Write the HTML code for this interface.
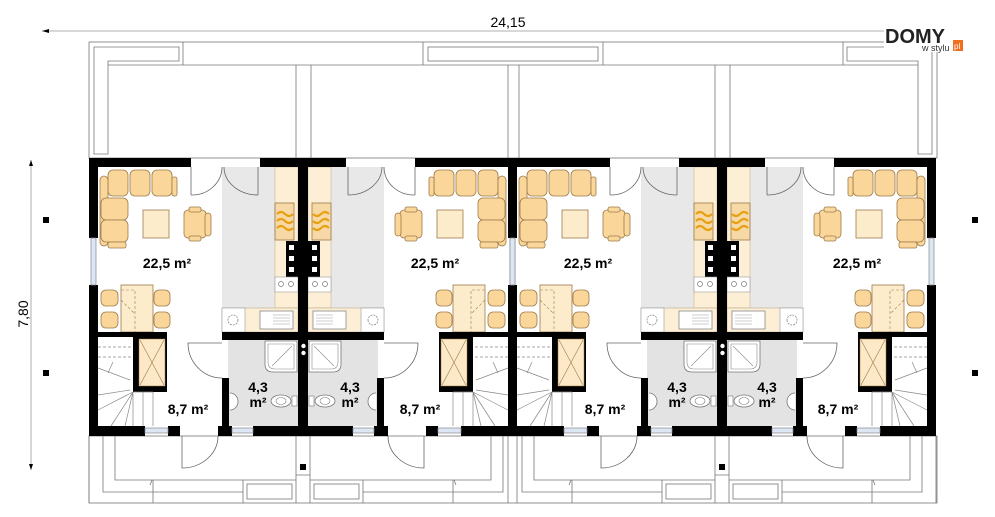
<!DOCTYPE html>
<html><head><meta charset="utf-8"><style>
html,body{margin:0;padding:0;background:#fff}
svg{display:block}
text{font-family:"Liberation Sans",sans-serif}
</style></head><body>
<svg width="995" height="517" viewBox="0 0 995 517" xmlns="http://www.w3.org/2000/svg">
<defs>
<g id="u">
  <!-- floors -->
  <rect x="222" y="167" width="76" height="165" fill="#e8e8e8"/>
  <rect x="228" y="340" width="70" height="86" fill="#e3e3e3"/>
  <!-- counter column along party wall -->
  <rect x="275" y="167" width="23" height="141" fill="#fdefd6" stroke="#c9b48f" stroke-width="0.6"/>
  <rect x="275" y="203" width="19" height="37" fill="#f6d9a6" stroke="#9a7a4a" stroke-width="0.8"/>
  <path d="M277 214 q4 -4 8 0 t8 0 M277 221 q4 -4 8 0 t8 0 M277 228 q4 -4 8 0 t8 0" fill="none" stroke="#e8a010" stroke-width="2.2"/>
  <rect x="286" y="241" width="12" height="36" fill="#000"/>
  <rect x="289" y="245" width="5" height="5" fill="#fff"/><rect x="289" y="256" width="5" height="5" fill="#fff"/><rect x="289" y="267" width="5" height="5" fill="#fff"/>
  <rect x="275" y="277" width="23" height="15" fill="#fff" stroke="#999" stroke-width="0.6"/>
  <circle cx="281" cy="284" r="2.5" fill="none" stroke="#777" stroke-width="0.7"/><circle cx="291" cy="284" r="2.5" fill="none" stroke="#777" stroke-width="0.7"/>
  <!-- bottom counter -->
  <rect x="222" y="308" width="76" height="24" fill="#fdefd6" stroke="#b9a98a" stroke-width="0.6"/>
  <rect x="222" y="308" width="23" height="24" fill="#fff" stroke="#999" stroke-width="0.6"/>
  <circle cx="233" cy="320" r="5" fill="none" stroke="#888" stroke-width="0.8" stroke-dasharray="2 1"/>
  <rect x="260" y="311" width="33" height="18" fill="#fff" stroke="#888" stroke-width="0.8"/>
  <path d="M273 315h17M273 318h17M273 321h17M273 324h17" stroke="#999" stroke-width="0.6"/>
  <!-- shower -->
  <path d="M265 341 h32 v31 h-24 q-8 0 -8 -8 z" fill="#fff" stroke="#777" stroke-width="0.8"/>
  <path d="M268 344 h26 v25 h-19 q-7 0 -7 -7 z M272 366 l20 -20" fill="none" stroke="#888" stroke-width="0.6"/>
  <!-- toilet & sink -->
  <ellipse cx="281" cy="401" rx="10" ry="6" fill="#fff" stroke="#777" stroke-width="0.8"/>
  <ellipse cx="281" cy="401" rx="5" ry="3.5" fill="none" stroke="#777" stroke-width="0.6"/>
  <rect x="292" y="396" width="5" height="10" fill="#fff" stroke="#777" stroke-width="0.6"/>
  <path d="M230 393 a8 8.5 0 0 1 0 17" fill="#fff" stroke="#777" stroke-width="0.8"/>
  <!-- sofa -->
  <g fill="#fbd69b" stroke="#9b7b4a" stroke-width="0.8">
    <rect x="108" y="170" width="20" height="26" rx="5"/><rect x="130" y="170" width="20" height="26" rx="5"/><rect x="152" y="170" width="20" height="26" rx="5"/>
    <rect x="172" y="177" width="5" height="19" rx="2"/>
    <rect x="100" y="176" width="8" height="70" rx="4"/>
    <rect x="101" y="198" width="27" height="22" rx="5"/><rect x="101" y="220" width="27" height="22" rx="5"/>
    <rect x="108" y="242" width="18" height="6" rx="2"/>
    <rect x="184" y="210" width="22" height="28" rx="4"/><rect x="205" y="213" width="6" height="23" rx="3"/>
    <rect x="189" y="207" width="12" height="5" rx="2"/><rect x="189" y="236" width="12" height="5" rx="2"/>
    <rect x="101" y="290" width="17" height="16" rx="5"/><rect x="101" y="312" width="17" height="16" rx="5"/>
    <rect x="154" y="290" width="16" height="16" rx="5"/><rect x="154" y="312" width="16" height="16" rx="5"/>
  </g>
  <rect x="143" y="210" width="26" height="28" fill="#fdeccb" stroke="#9b7b4a" stroke-width="0.8"/>
  <rect x="121" y="285" width="32" height="47" fill="#fdeccb" stroke="#9b7b4a" stroke-width="0.8"/>
  <path d="M121 290 h14 v42 M121 300 l14 14" fill="none" stroke="#9b7b4a" stroke-width="0.6" stroke-dasharray="3 2"/>
  <!-- closet -->
  <rect x="133" y="337" width="34" height="55" fill="#000"/>
  <rect x="139" y="339" width="26" height="47" fill="#fde9c8" stroke="#9b7b4a" stroke-width="0.5"/>
  <path d="M140 340 L164 385 M164 340 L140 385" stroke="#9b7b4a" stroke-width="0.6"/>
  <!-- stairs -->
  <g stroke="#888" stroke-width="0.7" fill="none">
    <path d="M98 347h35M98 357h35" stroke-dasharray="3 2"/>
    <path d="M98 368 L130 380 M113 362 L108 373 M98 395 L130 390 M98 410 L133 392 M111 426 L133 392 M125 426 L133 392 M133 392 V426 M143 392 V426 M153 392 V426 M133 392 h20"/>
  </g>
  <!-- walls -->
  <g fill="#000">
    <rect x="89" y="158" width="102" height="9"/>
    <rect x="260" y="158" width="47" height="9"/>
    <rect x="89" y="158" width="9" height="80"/>
    <rect x="89" y="285" width="9" height="151"/>
    <rect x="298" y="158" width="9" height="278"/>
    <rect x="98" y="332" width="69" height="5"/>
    <rect x="222" y="332" width="76" height="8"/>
    <rect x="222" y="378" width="7" height="48"/>
    <rect x="89" y="426" width="56" height="10"/>
    <rect x="168" y="426" width="12" height="10"/>
    <rect x="218" y="426" width="14" height="10"/>
    <rect x="253" y="426" width="54" height="10"/>
  </g>
  <circle cx="302.5" cy="346" r="2.2" fill="#fff"/><circle cx="302.5" cy="353" r="2.2" fill="#fff"/>
  <!-- windows -->
  <g fill="#dce6f4" stroke="#888" stroke-width="0.7">
    <rect x="91" y="238" width="5" height="47"/>
    <rect x="145" y="428" width="23" height="5"/>
    <rect x="232" y="428" width="21" height="5"/>
  </g>
  <!-- doors -->
  <g fill="none" stroke="#666" stroke-width="0.8">
    <path d="M191 167 V195 M191 195 A30 28 0 0 0 222 167"/>
    <path d="M258 167 V195 M258 195 A34 28 0 0 1 224 167"/>
    <path d="M222 343 H188 A34 35 0 0 0 222 378"/>
    <path d="M218 436 A36 32 0 0 1 182 468 V436"/>
  </g>
  <!-- outside bottom -->
  <g fill="none" stroke="#777" stroke-width="0.8">
    <path d="M103 436 V492 H243 M115 436 V480 H296 M153 480 V503 M243 480 V503 M152 480 l-2 5"/>
    <rect x="247" y="484" width="45" height="15"/>
    <path d="M296 436 V503 M89 436 V503 M296 475 H303"/>
  </g>
  <rect x="300" y="464" width="6" height="6" fill="#000"/>
</g>
</defs>

<!-- dimensions -->
<line x1="42" y1="31" x2="960" y2="31" stroke="#999" stroke-width="0.8"/>
<path d="M42 31 l7 -2 v4 z M960 31 l-7 -2 v4 z" fill="#000"/>
<text x="508" y="27" font-size="14" text-anchor="middle">24,15</text>
<line x1="31" y1="160" x2="31" y2="470" stroke="#999" stroke-width="0.8"/>
<path d="M31 160 l-2 6 h4 z M31 470 l-2 -6 h4 z" fill="#000"/>
<text transform="translate(28,314) rotate(-90)" font-size="14" text-anchor="middle">7,80</text>
<rect x="43" y="217" width="6" height="6"/><rect x="43" y="370" width="6" height="6"/>
<rect x="972" y="217" width="6" height="6"/><rect x="972" y="370" width="6" height="6"/>

<!-- top terrace -->
<g fill="none" stroke="#777" stroke-width="0.8">
  <rect x="89" y="42" width="848" height="116"/>
  <path d="M94 47 H179 V61 H108 V154 H94 Z"/>
  <path d="M932 47 H847 V61 H918 V154 H932 Z"/>
  <rect x="428" y="47" width="170" height="14"/>
  <path d="M183 42 V65 M423 42 V65 M603 42 V65 M843 42 V65"/>
  <path d="M108 65 H918"/>
  <path d="M296 65 V158 M311 65 V158 M508 65 V158 M519 65 V158 M715 65 V158 M730 65 V158"/>
</g>
<rect x="89" y="436" width="848" height="67" fill="none" stroke="#777" stroke-width="0.8"/>

<use href="#u"/>
<use href="#u" transform="translate(606,0) scale(-1,1)"/>
<use href="#u" transform="translate(419,0)"/>
<use href="#u" transform="translate(1025,0) scale(-1,1)"/>

<!-- labels -->
<g font-size="14" font-weight="bold" text-anchor="middle">
  <text x="167" y="268">22,5 m²</text><text x="188" y="414">8,7 m²</text><text x="258" y="392">4,3</text><text x="258" y="407">m²</text>
  <text x="435" y="268">22,5 m²</text><text x="420" y="414">8,7 m²</text><text x="350" y="392">4,3</text><text x="350" y="407">m²</text>
  <text x="588" y="268">22,5 m²</text><text x="605" y="414">8,7 m²</text><text x="677" y="392">4,3</text><text x="677" y="407">m²</text>
  <text x="857" y="268">22,5 m²</text><text x="838" y="414">8,7 m²</text><text x="767" y="392">4,3</text><text x="767" y="407">m²</text>
</g>

<!-- logo -->
<rect x="884" y="22" width="76" height="30" fill="#fff"/>
<text x="885" y="43" font-size="20" font-weight="bold" fill="#222">DOMY</text>
<text x="922" y="51" font-size="9" fill="#333">w stylu</text>
<rect x="953" y="40" width="10" height="11" fill="#f07020"/>
<text x="954" y="49" font-size="8" fill="#fff">pl</text>
</svg>
</body></html>
